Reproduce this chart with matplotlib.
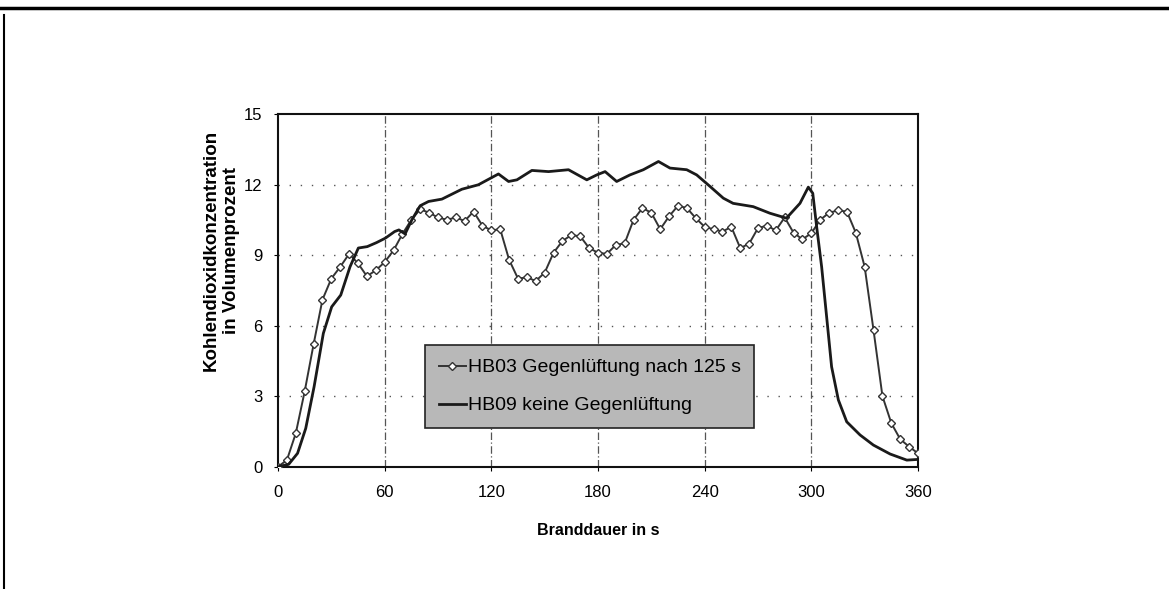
import matplotlib
matplotlib.use("Agg")
import matplotlib.pyplot as plt
from matplotlib.lines import Line2D

plt.rcParams['font.family'] = ['Liberation Sans', 'DejaVu Sans']

# HB03 Gegenlüftung nach 125 s (markers every 5 s)
hb03_t = list(range(0, 365, 5))
hb03_v = [0.0, 0.28, 1.42, 3.2, 5.2, 7.1, 8.0, 8.5, 9.05, 8.65, 8.1, 8.35, 8.7, 9.2, 9.9,
          10.5, 10.95, 10.8, 10.6, 10.5, 10.6, 10.45, 10.85, 10.25, 10.05, 10.1, 8.8, 8.0,
          8.05, 7.9, 8.25, 9.1, 9.6, 9.85, 9.8, 9.3, 9.1, 9.05, 9.43, 9.5, 10.5, 11.0, 10.8,
          10.1, 10.65, 11.1, 11.0, 10.57, 10.2, 10.1, 10.0, 10.2, 9.3, 9.48, 10.15, 10.25,
          10.05, 10.6, 9.95, 9.67, 9.93, 10.5, 10.8, 10.9, 10.85, 9.95, 8.5, 5.8, 3.0, 1.85,
          1.17, 0.85, 0.57]

# HB09 keine Gegenlüftung
hb09_t = [0, 6, 11, 15.6, 20.3, 25.5, 30.2, 35.3, 40.5, 45.2, 50.2, 55.4, 60.4, 65.6, 68,
          71.5, 75.3, 80, 84.7, 92.2, 103.4, 112.7, 124, 129.7, 134.4, 142.8, 152.2, 163.4,
          173.7, 179.3, 184, 190.5, 198, 205.5, 214, 220.5, 229.9, 235.5, 243, 250.5, 256,
          267.3, 276.7, 286, 293.6, 298.3, 300.8, 303, 305.8, 308.6, 311.4, 315.2, 319.9,
          327.4, 334.9, 344.3, 353.7, 360]
hb09_v = [0.0, 0.1, 0.57, 1.63, 3.4, 5.67, 6.8, 7.3, 8.5, 9.3, 9.36, 9.53, 9.72, 10.0, 10.07,
          9.9, 10.5, 11.1, 11.28, 11.38, 11.8, 11.99, 12.45, 12.13, 12.2, 12.6, 12.55, 12.63,
          12.2, 12.41, 12.55, 12.13, 12.41, 12.63, 12.98, 12.7, 12.63, 12.41, 11.92, 11.42,
          11.2, 11.06, 10.78, 10.57, 11.2, 11.89, 11.63, 10.2, 8.5, 6.38, 4.25, 2.84, 1.91,
          1.35, 0.92, 0.54, 0.28, 0.31]

x_ticks = [0, 60, 120, 180, 240, 300, 360]
y_ticks = [0, 3, 6, 9, 12, 15]

W, H = 1169, 589
fig = plt.figure(figsize=(W / 100, H / 100), dpi=100)
ax = fig.add_axes([278 / W, 1 - 466.7 / H, 640 / W, (466.7 - 114) / H])

ax.plot(hb03_t, hb03_v, color='#333333', lw=1.4, marker='D', markersize=4.5,
        markerfacecolor='white', markeredgecolor='#333333', markeredgewidth=1.0,
        label='HB03 Gegenlüftung nach 125 s', zorder=3)
ax.plot(hb09_t, hb09_v, color='#1a1a1a', lw=2.0,
        label='HB09 keine Gegenlüftung', zorder=3)

ax.set_xlim(0, 360)
ax.set_ylim(0, 15)
ax.set_xticks(x_ticks)
ax.set_yticks(y_ticks)
ax.tick_params(labelsize=12, length=3, direction='out')
ax.tick_params(axis='x', pad=10)
ax.tick_params(axis='y', pad=8)

for xv in x_ticks[1:-1]:
    ax.axvline(xv, color='#555555', lw=0.9, ls=(0, (6, 2, 1, 2)), zorder=1)
for yv in y_ticks[1:-1]:
    ax.axhline(yv, color='#555555', lw=1.0, ls=(0, (1, 7)), zorder=1)

for s in ax.spines.values():
    s.set_linewidth(1.5)
    s.set_color('#111111')

ax.set_xlabel('Branddauer in s', fontsize=11.5, fontweight='bold', labelpad=17)
fig.text(221 / W, 1 - 250 / H, 'Kohlendioxidkonzentration\nin Volumenprozent',
         rotation=90, ha='center', va='center', fontsize=13.5, fontweight='bold',
         linespacing=1.25, multialignment='center')

leg = ax.legend(loc='lower left', bbox_to_anchor=((425 - 278) / 640, (466.7 - 428) / 352.7),
                fontsize=14, frameon=True, fancybox=False, handlelength=1.4,
                handletextpad=0.1, borderpad=0.7, labelspacing=1.05, borderaxespad=0)
fr = leg.get_frame()
fr.set_facecolor('#b8b8b8')
fr.set_edgecolor('#222222')
fr.set_linewidth(1.2)
fr.set_alpha(1)

fig.add_artist(Line2D([0, 1], [1 - 8 / H, 1 - 8 / H], color='black', lw=2.5,
                      transform=fig.transFigure))
fig.add_artist(Line2D([4 / W, 4 / W], [0, 1 - 15 / H], color='black', lw=1.5,
                      transform=fig.transFigure))

fig.savefig('out.png', dpi=100)
